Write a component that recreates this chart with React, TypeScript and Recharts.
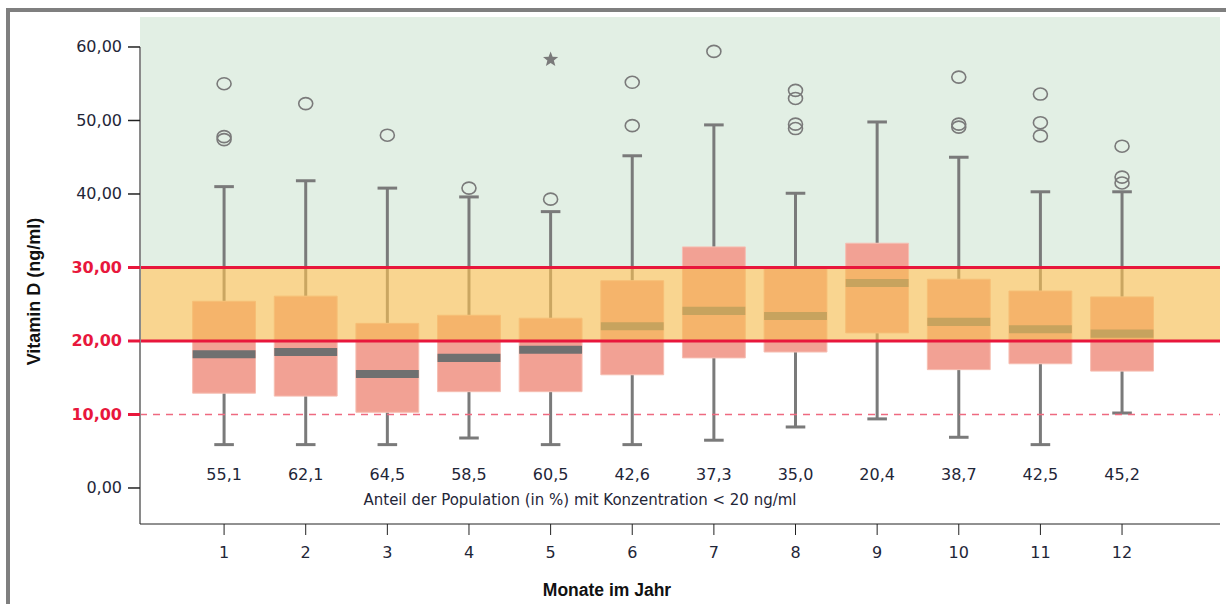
import React from "react";
import {
  ComposedChart,
  XAxis,
  YAxis,
  ReferenceArea,
  ReferenceLine,
  ReferenceDot,
  Scatter,
} from "recharts";

const months = [1, 2, 3, 4, 5, 6, 7, 8, 9, 10, 11, 12];
const q1 = [12.9, 12.5, 10.3, 13.1, 13.1, 15.4, 17.7, 18.5, 21.1, 16.1, 16.9, 15.9];
const q3 = [25.4, 26.1, 22.4, 23.5, 23.1, 28.2, 32.8, 30.0, 33.3, 28.4, 26.8, 26.0];
const medians = [18.2, 18.5, 15.5, 17.7, 18.8, 22.0, 24.1, 23.4, 27.9, 22.6, 21.6, 21.0];
const whiskerLow = [5.9, 5.9, 5.9, 6.8, 5.9, 5.9, 6.5, 8.3, 9.4, 6.9, 5.9, 10.2];
const whiskerHigh = [41.0, 41.8, 40.8, 39.6, 37.6, 45.2, 49.4, 40.1, 49.8, 45.0, 40.3, 40.3];
const shareBelow20 = ["55,1", "62,1", "64,5", "58,5", "60,5", "42,6", "37,3", "35,0", "20,4", "38,7", "42,5", "45,2"];
const outliers = [
  [55.0, 47.8, 47.4],
  [52.3],
  [48.0],
  [40.8],
  [39.3],
  [55.2, 49.3],
  [59.4],
  [54.1, 53.0, 49.5, 48.9],
  [],
  [55.9, 49.5, 49.1],
  [53.6, 49.7, 47.9],
  [46.5, 42.3, 41.5],
];
const extremes = [{ x: 5, y: 58.3 }];
const yTicks = [0, 10, 20, 30, 40, 50, 60];
const redTicks = [10, 20, 30];

const xMin = -0.03;
const xMax = 13.2;
const yMin = -4.9;
const yMax = 64.08;
const boxHalf = 0.385;
const capHalf = 0.12;
const medianHalf = 0.55;

const outlierData = outliers.flatMap((vals, i) => vals.map((v) => ({ x: months[i], y: v })));
const shareData = months.map((m, i) => ({ x: m, y: 1.9, label: shareBelow20[i] }));

const fmt = (v: number) => v.toFixed(2).replace(".", ",");

const YTick = (props: any) => {
  const { x, y, payload } = props;
  const red = redTicks.includes(payload.value);
  return (
    <g>
      {red && <line x1={x + 6} x2={x + 18} y1={y} y2={y} stroke="#e8173c" strokeWidth={3} />}
      <text
        x={x}
        y={y}
        textAnchor="end"
        dominantBaseline="central"
        fontSize={16}
        fontWeight={red ? 700 : 400}
        fill={red ? "#e8173c" : "#1f2638"}
      >
        {fmt(payload.value)}
      </text>
    </g>
  );
};

const Circle = (props: any) => (
  <ellipse cx={props.cx} cy={props.cy} rx={7} ry={6} fill="none" stroke="#7a7a7a" strokeWidth={1.6} />
);

const Star = (props: any) => {
  const { cx, cy } = props;
  const pts: string[] = [];
  for (let i = 0; i < 10; i++) {
    const r = i % 2 === 0 ? 8 : 3.4;
    const a = -Math.PI / 2 + (i * Math.PI) / 5;
    pts.push(`${cx + r * Math.cos(a)},${cy + r * Math.sin(a)}`);
  }
  return <polygon points={pts.join(" ")} fill="#7a7a7a" />;
};

const ShareLabel = (props: any) => (
  <text x={props.cx} y={props.cy} textAnchor="middle" dominantBaseline="central" fontSize={16} fill="#1f2638">
    {props.payload.label}
  </text>
);

export default function App() {
  return (
    <div style={{ position: "absolute", left: 0, top: 0, width: 1226, height: 604, background: "#fff", fontFamily: "'DejaVu Sans', sans-serif" }}>
      <div
        style={{
          position: "absolute",
          left: 6,
          top: 8,
          width: 1260,
          height: 640,
          borderLeft: "4px solid #7f7f7f",
          borderTop: "4px solid #7f7f7f",
        }}
      />
      <ComposedChart
        width={1226}
        height={604}
        margin={{ top: 17, right: 6, left: 0, bottom: 0 }}
        style={{ position: "absolute", left: 0, top: 0 }}
      >
        <XAxis
          type="number"
          dataKey="x"
          domain={[xMin, xMax]}
          ticks={months}
          allowDataOverflow
          height={80}
          tickSize={11}
          tickMargin={12}
          stroke="#222"
          tick={{ fontSize: 16, fill: "#1f2638" }}
          label={{
            content: (p: any) => {
              const vb = p.viewBox;
              return (
                <text
                  x={vb.x + vb.width / 2 - 73}
                  y={vb.y + 66}
                  textAnchor="middle"
                  dominantBaseline="central"
                  fontFamily="'Liberation Sans', sans-serif"
                  fontWeight={700}
                  fontSize={17.5}
                  fill="#111"
                >
                  Monate im Jahr
                </text>
              );
            },
          }}
        />
        <YAxis
          type="number"
          dataKey="y"
          domain={[yMin, yMax]}
          ticks={yTicks}
          allowDataOverflow
          width={140}
          axisLine={false}
          tickSize={12}
          tickMargin={6}
          tickLine={{ stroke: "#222", strokeWidth: 1.5 }}
          tick={<YTick />}
          label={{
            content: (p: any) => {
              const vb = p.viewBox;
              const cx = vb.x + 34;
              const cy = vb.y + vb.height / 2 + 21;
              return (
                <text
                  x={cx}
                  y={cy}
                  transform={`rotate(-90 ${cx} ${cy})`}
                  textAnchor="middle"
                  dominantBaseline="central"
                  fontFamily="'Liberation Sans', sans-serif"
                  fontWeight={700}
                  fontSize={18}
                  fill="#111"
                >
                  Vitamin D (ng/ml)
                </text>
              );
            },
          }}
        />

        <ReferenceArea y1={30} y2={yMax} fill="#e2efe4" fillOpacity={1} stroke="none" zIndex={10} />

        {months.map((m, i) => (
          <ReferenceLine
            key={`wh${m}`}
            segment={[{ x: m, y: q3[i] }, { x: m, y: whiskerHigh[i] }]}
            stroke="#7a7a7a"
            strokeWidth={3}
            zIndex={20}
          />
        ))}
        {months.map((m, i) => (
          <ReferenceLine
            key={`wl${m}`}
            segment={[{ x: m, y: whiskerLow[i] }, { x: m, y: q1[i] }]}
            stroke="#7a7a7a"
            strokeWidth={3}
            zIndex={20}
          />
        ))}
        {months.map((m, i) => (
          <ReferenceLine
            key={`ch${m}`}
            segment={[{ x: m - capHalf, y: whiskerHigh[i] }, { x: m + capHalf, y: whiskerHigh[i] }]}
            stroke="#7a7a7a"
            strokeWidth={3}
            zIndex={20}
          />
        ))}
        {months.map((m, i) => (
          <ReferenceLine
            key={`cl${m}`}
            segment={[{ x: m - capHalf, y: whiskerLow[i] }, { x: m + capHalf, y: whiskerLow[i] }]}
            stroke="#7a7a7a"
            strokeWidth={3}
            zIndex={20}
          />
        ))}
        {months.map((m, i) => (
          <ReferenceArea
            key={`b${m}`}
            x1={m - boxHalf}
            x2={m + boxHalf}
            y1={q1[i]}
            y2={q3[i]}
            fill="#f2a194"
            fillOpacity={1}
            stroke="#f6beb2"
            strokeWidth={1}
            zIndex={30}
          />
        ))}
        {months.map((m, i) => (
          <ReferenceArea
            key={`m${m}`}
            x1={m - boxHalf}
            x2={m + boxHalf}
            y1={medians[i] - medianHalf}
            y2={medians[i] + medianHalf}
            fill="#707070"
            fillOpacity={1}
            stroke="none"
            zIndex={40}
          />
        ))}

        <ReferenceArea y1={20} y2={30} fill="rgb(246,190,84)" fillOpacity={0.65} stroke="none" zIndex={50} />

        <ReferenceLine y={10} stroke="#ee6a80" strokeWidth={1.5} strokeDasharray="7 6" zIndex={60} />
        <ReferenceLine y={20} stroke="#e8173c" strokeWidth={3} zIndex={60} />
        <ReferenceLine y={30} stroke="#e8173c" strokeWidth={3} zIndex={60} />

        <ReferenceLine
          segment={[{ x: xMin, y: yMin }, { x: xMin, y: 60 }]}
          stroke="#8a8a8a"
          strokeWidth={2}
          ifOverflow="visible"
          zIndex={70}
        />

        <ReferenceDot
          x={5.36}
          y={-1.63}
          r={0}
          fill="none"
          stroke="none"
          zIndex={70}
          label={{ value: "Anteil der Population (in %) mit Konzentration < 20 ng/ml", position: "center", fontSize: 15, fill: "#1f2638" }}
        />

        <Scatter data={outlierData} shape={<Circle />} isAnimationActive={false} zIndex={80} />
        <Scatter data={extremes} shape={<Star />} isAnimationActive={false} zIndex={80} />
        <Scatter data={shareData} shape={<ShareLabel />} isAnimationActive={false} zIndex={80} />
      </ComposedChart>
    </div>
  );
}
